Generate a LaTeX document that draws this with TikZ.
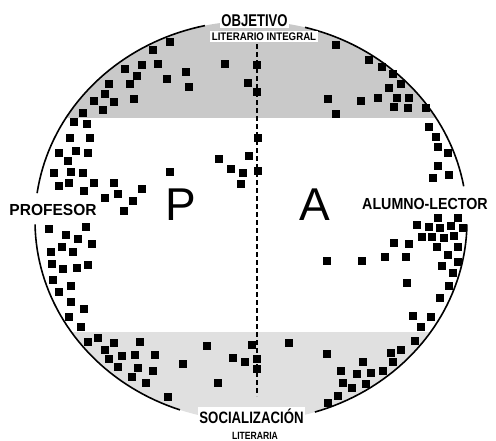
\documentclass[tikz,border=0pt]{standalone}
\usepackage{fontspec}
\setmainfont{Liberation Sans}
\usepackage{tikz}
\usetikzlibrary{positioning}
\newcommand{\estrecho}[2]{\scalebox{#1}[1]{#2}}

\begin{document}
\begin{tikzpicture}[
        x=1pt, y=-1pt,
        borde/.style={line width=1.6pt, black},
        eje/.style={line width=1.3pt, dash pattern=on 5pt off 3pt},
        zonasup/.style={fill=black!21},
        zonainf/.style={fill=black!12},
        etiqueta/.style={anchor=base, inner sep=1.5pt, fill=white, font=\bfseries},
        letra/.style={anchor=base, inner sep=0pt, font=\fontsize{46}{46}\selectfont},
    ]
        \useasboundingbox (0,0) rectangle (496,440);

        % zonas sombreadas
        \begin{scope}
            \clip (251,221) ellipse [x radius=216, y radius=200];
            \fill[zonasup] (0,0) rectangle (496,118);
            \fill[zonainf] (0,332) rectangle (496,440);
        \end{scope}

        % contorno con huecos para las etiquetas
        \draw[borde] plot[domain=10:75.5, samples=40] ({251+216*cos(\x)},{221-200*sin(\x)});
        \draw[borde] plot[domain=102.3:172, samples=40] ({251+216*cos(\x)},{221-200*sin(\x)});
        \draw[borde] plot[domain=181:250.8, samples=40] ({251+216*cos(\x)},{221-200*sin(\x)});
        \draw[borde] plot[domain=287.2:359, samples=40] ({251+216*cos(\x)},{221-200*sin(\x)});

        \coordinate (ejesup) at (257,44);
        \coordinate (ejeinf) at (257,396);
        \draw[eje] (ejesup) -- (ejeinf);

        % alumnos / lectores
        \foreach \x/\y in {170/42, 153/50, 142/65, 158/64, 125/69, 137/76, 186/72, 167/79,
            189/87, 225/64, 257/65, 248/83, 257/92, 109/84, 130/84, 105/94, 94/101, 114/102,
            134/99, 103/110, 83/113, 74/122, 87/124,
            70/138, 90/138, 59/153, 76/151, 88/153, 68/161, 54/173, 71/172, 83/173, 59/186,
            69/183, 84/191, 94/183, 114/183, 118/194, 105/198, 133/201, 142/189, 124/211,
            170/172, 219/159, 231/169, 243/173, 241/184, 249/156, 258/138, 258/171,
            49/229, 86/227, 66/235, 78/239, 92/244, 62/247, 51/252, 73/252, 52/264, 63/269,
            77/268, 88/265, 53/280, 71/286, 59/292, 71/302, 84/309, 69/317, 81/327,
            336/45, 369/60, 382/67, 393/74, 401/84, 389/88, 397/98, 409/98, 378/98, 361/101,
            328/99, 336/114, 394/107, 408/108, 426/108,
            429/127, 436/137, 438/147, 448/153, 438/166, 449/175, 433/178,
            438/218, 458/218, 417/225, 429/227, 440/228, 451/226, 463/228, 422/237, 432/237,
            444/238, 454/236, 437/247, 458/247, 394/243, 409/244, 448/255, 458/262, 327/261,
            362/261, 385/257, 406/257, 442/266, 453/273, 407/283, 449/286, 440/298, 413/316,
            431/317, 421/327,
            88/342, 98/338, 114/343, 140/342, 105/350, 122/356, 135/355, 155/355, 109/359,
            118/367, 138/368, 153/371, 183/364, 132/377, 146/383, 168/397, 207/346, 252/345,
            233/358, 245/362, 257/359, 257/369, 218/383,
            289/343, 327/354, 341/371, 357/374, 363/362, 371/373, 343/383, 352/388, 366/384,
            383/371, 391/353, 393/362, 401/350, 415/341, 338/396, 328/403}
            \fill (\x-3.6,\y-3.6) rectangle (\x+3.6,\y+3.6);

        \node[letra] (p) at (181,220) {P};
        \node[letra] (a) at (315,220) {A};

        \node[etiqueta, font=\bfseries\fontsize{17}{17}\selectfont] (objetivo) at (254.5,26) {\estrecho{0.77}{OBJETIVO}};
        \node[etiqueta, font=\bfseries\fontsize{11}{11}\selectfont] (literario) at (264,40) {\estrecho{0.88}{LITERARIO INTEGRAL}};
        \node[etiqueta, font=\bfseries\fontsize{16}{16}\selectfont] (profesor) at (53,215) {\estrecho{0.97}{PROFESOR}};
        \node[etiqueta, font=\bfseries\fontsize{16}{16}\selectfont] (alumno) at (425,209) {\estrecho{0.89}{ALUMNO-LECTOR}};
        \node[etiqueta, font=\bfseries\fontsize{16.5}{17}\selectfont] (socializacion) at (251.5,423) {\estrecho{0.80}{SOCIALIZACIÓN}};
        \node[etiqueta, font=\bfseries\fontsize{10.5}{11}\selectfont] (literaria) at (255,439) {\estrecho{0.82}{LITERARIA}};
    \end{tikzpicture}
\end{document}
